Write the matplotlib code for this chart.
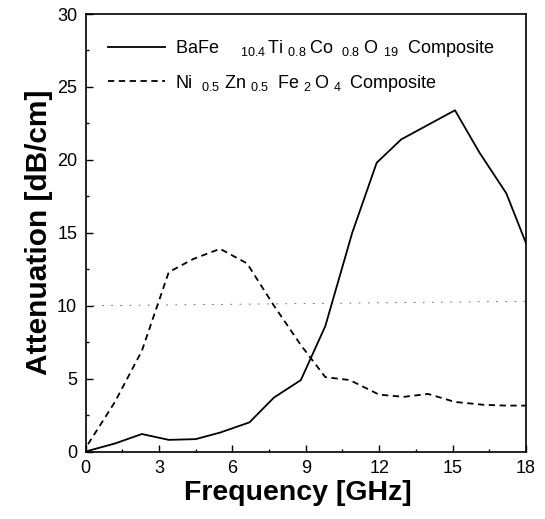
import matplotlib
matplotlib.use("Agg")
import matplotlib.pyplot as plt
from matplotlib.ticker import MultipleLocator

plt.rcParams['font.family'] = ['Liberation Sans', 'DejaVu Sans']
plt.rcParams['mathtext.fontset'] = 'custom'
plt.rcParams['mathtext.rm'] = 'Liberation Sans'
plt.rcParams['mathtext.it'] = 'Liberation Sans'
plt.rcParams['mathtext.bf'] = 'Liberation Sans:bold'

# Data
baco_freq = [0, 1.2, 2.3, 3.4, 4.5, 5.5, 6.7, 7.7, 8.8, 9.8, 10.9, 11.9, 12.9, 14.0, 15.1, 16.1, 17.2, 18.0]
baco_att = [0, 0.55, 1.2, 0.8, 0.85, 1.3, 2.0, 3.7, 4.9, 8.6, 15.0, 19.8, 21.4, 22.4, 23.4, 20.5, 17.7, 14.3]

nizn_freq = [0.1, 1.2, 2.3, 3.4, 4.4, 5.5, 6.6, 7.7, 8.8, 9.8, 10.8, 12.0, 13.0, 14.0, 15.1, 16.3, 17.2, 18.0]
nizn_att = [0.5, 3.4, 6.9, 12.3, 13.2, 13.9, 12.9, 10.0, 7.3, 5.1, 4.9, 3.9, 3.75, 3.95, 3.4, 3.2, 3.15, 3.15]

# faint scan artefact line near 10 dB/cm
art_freq = [0.3, 18.0]
art_att = [10.0, 10.3]

label_baco = (r'BaFe$_{\hspace{2.1}10.4\hspace{0.2}}$Ti$_{\hspace{0.5}0.8\hspace{0.4}}$'
              r'Co$_{\hspace{0.75}0.8\hspace{0.4}}$O$_{\hspace{0.55}19\hspace{0.95}}$Composite')
label_nizn = (r'Ni$_{\hspace{0.85}0.5\hspace{0.55}}$Zn$_{\hspace{0.4}0.5\hspace{0.85}}$'
              r'Fe$_{\hspace{0.5}2\hspace{0.3}}$O$_{\hspace{0.5}4\hspace{0.75}}$Composite')

xticks = [0, 3, 6, 9, 12, 15, 18]
yticks = [0, 5, 10, 15, 20, 25, 30]

fig = plt.figure(figsize=(5.45, 5.19), dpi=100)
ax = fig.add_axes([0.157, 0.130, 0.808, 0.843])

ax.plot(art_freq, art_att, color='#555555', lw=0.6, linestyle=(0, (2, 9)))
ax.plot(baco_freq, baco_att, color='black', lw=1.3, label=label_baco)
ax.plot(nizn_freq, nizn_att, color='black', lw=1.3, linestyle=(0, (3.5, 2.5)), label=label_nizn)

ax.set_xlim(0, 18)
ax.set_ylim(0, 30)
ax.set_xticks(xticks)
ax.set_yticks(yticks)
ax.xaxis.set_minor_locator(MultipleLocator(1.5))
ax.yaxis.set_minor_locator(MultipleLocator(2.5))
ax.tick_params(which='both', direction='in', top=False, right=False, width=1.0)
ax.tick_params(which='major', length=5, labelsize=13, pad=6)
ax.tick_params(which='minor', length=2.5)
for s in ax.spines.values():
    s.set_linewidth(1.2)

ax.set_xlabel('Frequency [GHz]', fontsize=20.5, fontweight='bold', labelpad=2)
ax.xaxis.set_label_coords(0.481, -0.065)
ax.set_ylabel('Attenuation [dB/cm]', fontsize=21.5, fontweight='bold', labelpad=3)

leg = ax.legend(loc='upper left', bbox_to_anchor=(0.05, 0.945), frameon=False,
                fontsize=13, handlelength=3.2, handletextpad=0.55,
                labelspacing=0.75, borderpad=0, borderaxespad=0)

fig.savefig('out.png', dpi=100)
